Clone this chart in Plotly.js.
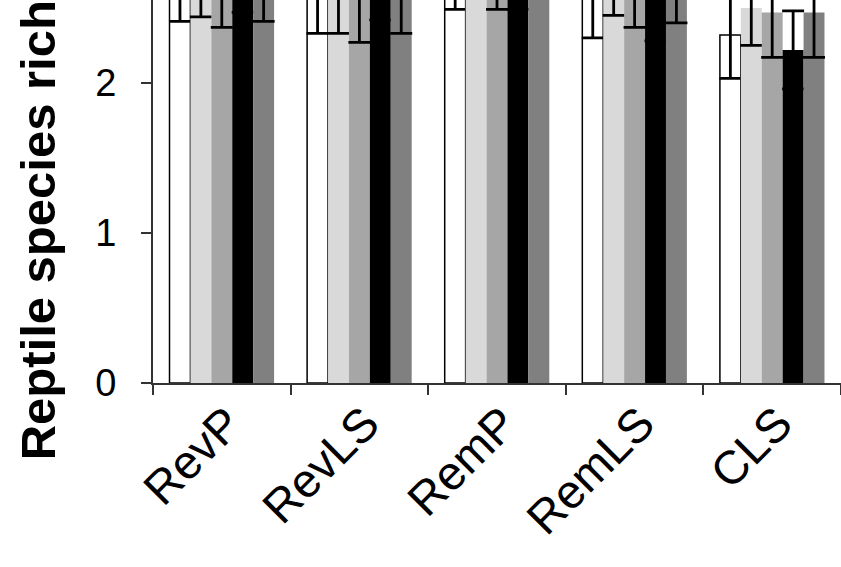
<!DOCTYPE html>
<html>
<head>
<meta charset="utf-8">
<script src="https://cdn.plot.ly/plotly-3.0.1.min.js"></script>
<style>html,body{margin:0;padding:0;background:#fff;}#chart{width:841px;height:567px;}</style>
</head>
<body>
<div id="chart"></div>
<script>
var categories = ['RevP', 'RevLS', 'RemP', 'RemLS', 'CLS'];
var series1 = [2.69, 2.62, 2.78, 2.58, 2.32];
var err1    = [0.28, 0.29, 0.29, 0.28, 0.29];
var series2 = [2.72, 2.61, 2.88, 2.72, 2.50];
var err2    = [0.28, 0.28, 0.28, 0.27, 0.25];
var series3 = [2.66, 2.57, 2.78, 2.66, 2.47];
var err3    = [0.29, 0.30, 0.29, 0.29, 0.30];
var series4 = [2.75, 2.70, 2.78, 2.56, 2.22];
var err4    = [0.28, 0.28, 0.29, 0.28, 0.26];
var series5 = [2.70, 2.62, 2.88, 2.68, 2.47];
var err5    = [0.29, 0.29, 0.28, 0.28, 0.30];
var yTitle = 'Reptile species richness';

var FONT = 'Liberation Sans, Arial, sans-serif';
function bar(vals, errs, color, lineW) {
  return {
    type: 'bar', x: categories, y: vals,
    marker: {color: color, line: {color: '#000', width: lineW}},
    error_y: {type: 'data', array: errs, visible: true, color: '#000', thickness: 2.8, width: 11},
    showlegend: false, hoverinfo: 'skip'
  };
}
var data = [
  bar(series1, err1, '#ffffff', 1.5),
  bar(series2, err2, '#d9d9d9', 0),
  bar(series3, err3, '#a6a6a6', 0),
  bar(series4, err4, '#000000', 0),
  bar(series5, err5, '#808080', 0)
];
var layout = {
  width: 841, height: 567,
  margin: {l: 153, r: 0, t: 0, b: 184, pad: 0},
  paper_bgcolor: '#fff', plot_bgcolor: '#fff',
  barmode: 'group', bargap: 0.24, bargroupgap: 0,
  font: {family: FONT, color: '#000'},
  xaxis: {
    type: 'category', showgrid: false, zeroline: false,
    showline: true, linecolor: '#333', linewidth: 2,
    ticks: 'outside', ticklen: 10, tickwidth: 2, tickcolor: '#333',
    tickson: 'boundaries', tickangle: -45, ticklabelshift: 6, ticklabelstandoff: -8,
    tickfont: {family: FONT, size: 47, color: '#000'}
  },
  yaxis: {
    range: [0, 2.553], showgrid: false, zeroline: false,
    showline: true, linecolor: '#333', linewidth: 2,
    ticks: 'outside', ticklen: 10, tickwidth: 2, tickcolor: '#333',
    tickvals: [0, 1, 2], ticktext: ['0', '1', '2'],
    ticklabelstandoff: 17,
    tickfont: {family: FONT, size: 38, color: '#000'}
  },
  annotations: [{
    text: '<b>' + yTitle + '</b>', textangle: -90,
    xref: 'paper', yref: 'paper', x: -0.167, y: 0.545,
    xanchor: 'center', yanchor: 'middle', showarrow: false,
    font: {family: FONT, size: 49, color: '#000'}
  }]
};
Plotly.newPlot('chart', data, layout, {staticPlot: true});
</script>
</body>
</html>
